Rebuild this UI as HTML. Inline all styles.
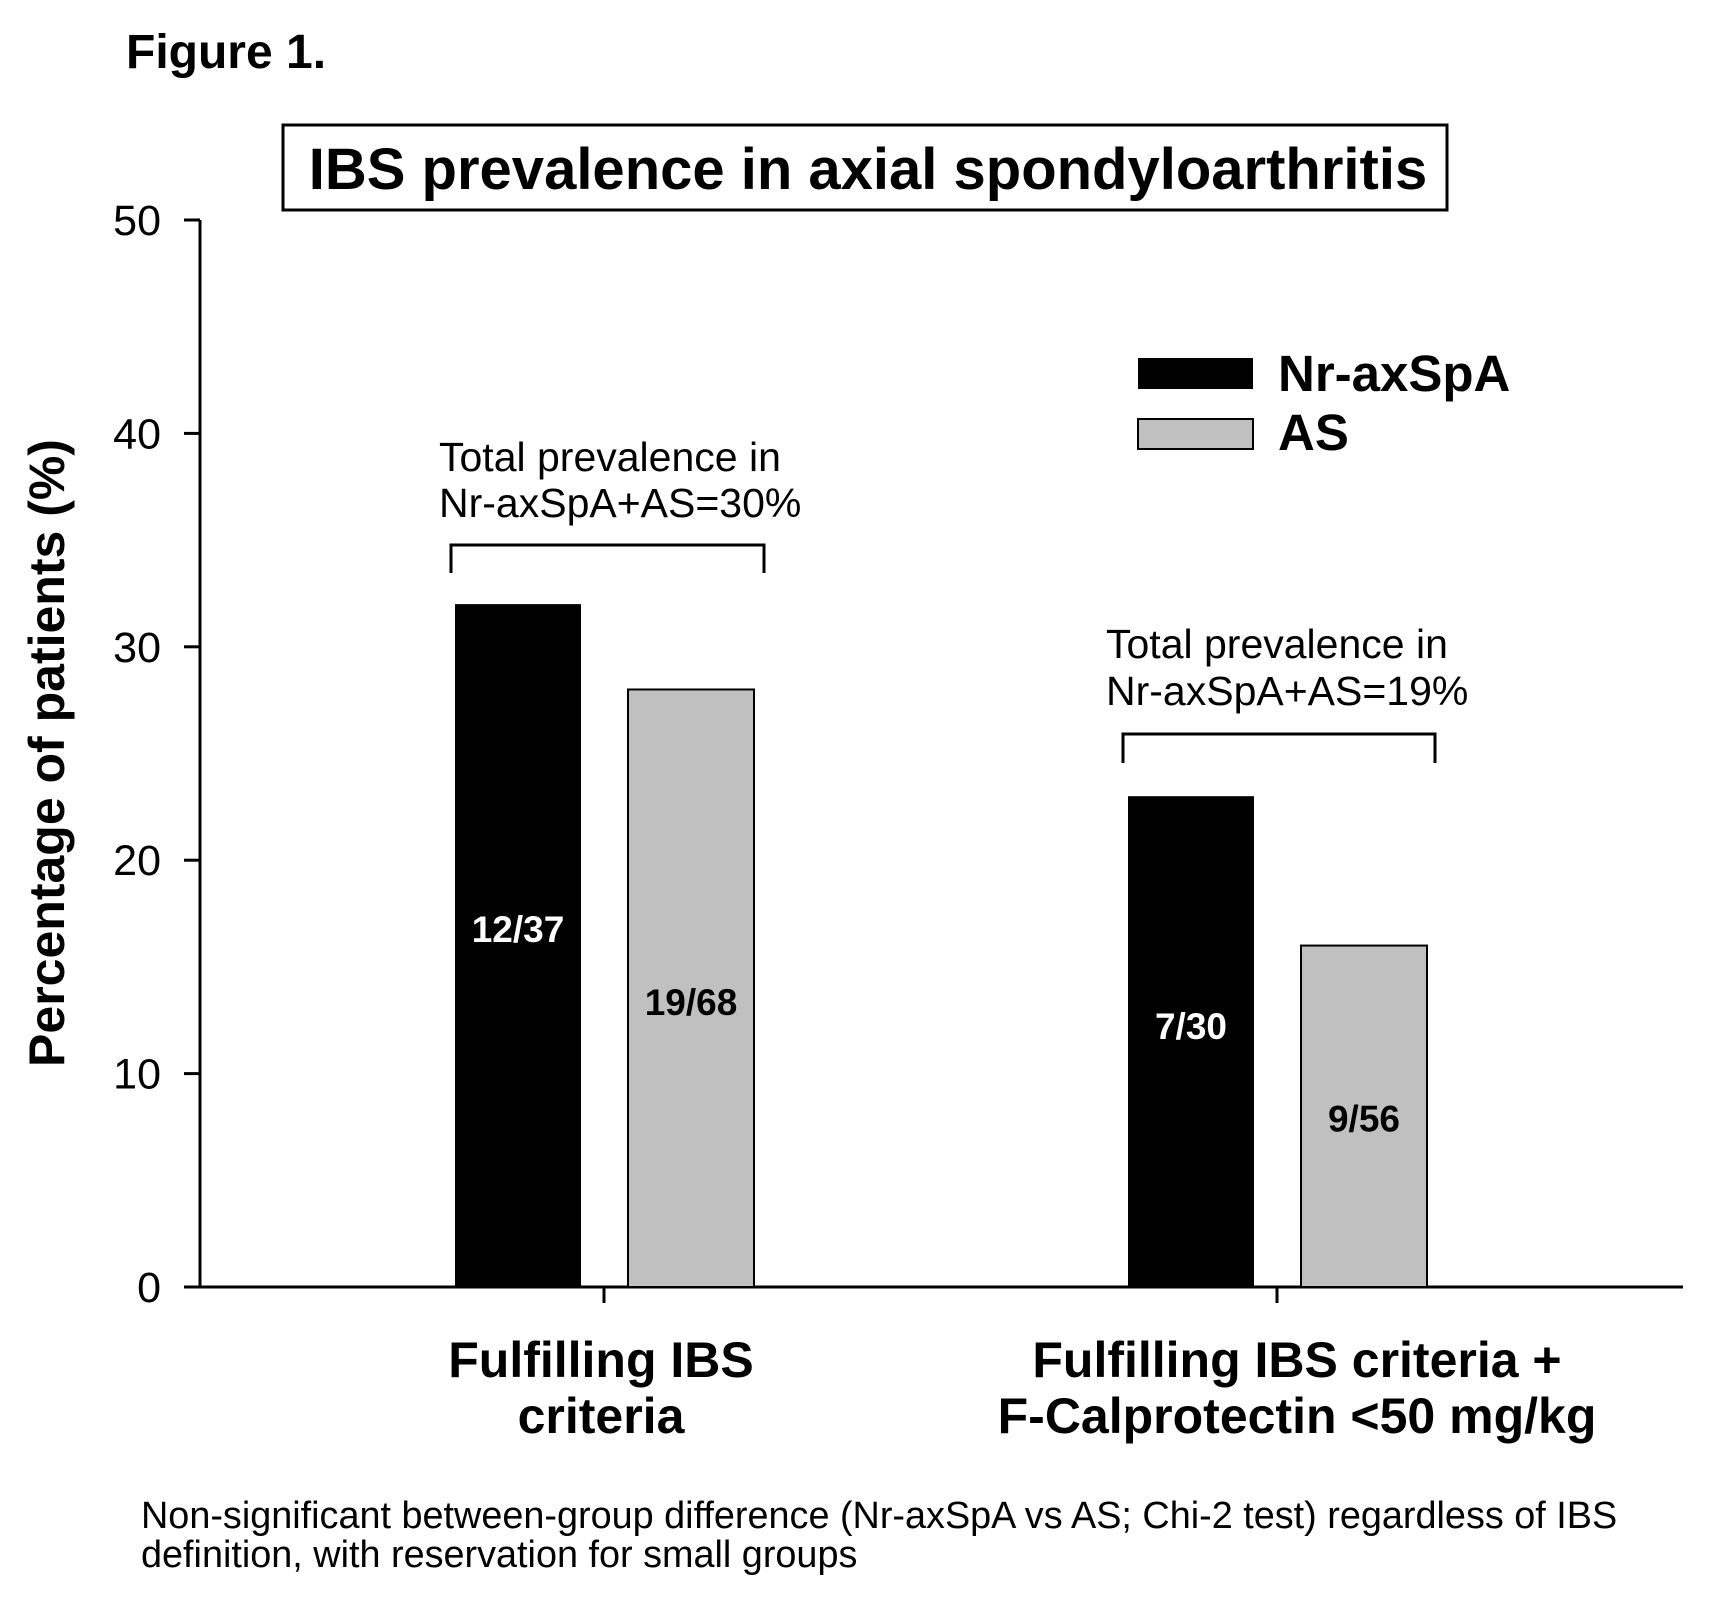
<!DOCTYPE html>
<html><head><meta charset="utf-8"><style>
html,body{margin:0;padding:0;background:#fff}
svg{display:block;font-family:"Liberation Sans",Arial,sans-serif}
</style></head><body>
<svg id="chart" width="1725" height="1597" viewBox="0 0 1725 1597">
<text x="126" y="68" font-size="48" font-weight="bold">Figure 1.</text>
<rect x="283" y="125" width="1164" height="85" fill="none" stroke="#000" stroke-width="3"/>
<text x="868" y="189" font-size="58" font-weight="bold" text-anchor="middle">IBS prevalence in axial spondyloarthritis</text>
<text transform="translate(64,753) rotate(-90)" font-size="50" font-weight="bold" text-anchor="middle">Percentage of patients (%)</text>
<g id="axes"></g>
<g id="bars"></g>
<rect x="1138" y="358" width="115" height="31" fill="#000"/>
<text x="1278" y="391" font-size="51" font-weight="bold">Nr-axSpA</text>
<rect x="1138" y="419" width="115" height="30" fill="#c0c0c0" stroke="#000" stroke-width="2"/>
<text x="1278" y="450" font-size="51" font-weight="bold">AS</text>
<g>
<text x="439" y="471" font-size="41">Total prevalence in</text>
<text x="439" y="517" font-size="41">Nr-axSpA+AS=30%</text>
<path d="M451 573 V545 H764 V573" fill="none" stroke="#000" stroke-width="3"/>
</g>
<g>
<text x="1106" y="658" font-size="41">Total prevalence in</text>
<text x="1106" y="705" font-size="41">Nr-axSpA+AS=19%</text>
<path d="M1123 763 V734 H1435 V763" fill="none" stroke="#000" stroke-width="3"/>
</g>
<g font-size="50" font-weight="bold" text-anchor="middle">
<text x="601" y="1377">Fulfilling IBS</text>
<text x="601" y="1433">criteria</text>
<text x="1297" y="1377">Fulfilling IBS criteria +</text>
<text x="1297" y="1433">F-Calprotectin &lt;50 mg/kg</text>
</g>
<text x="141" y="1528" font-size="37.8">Non-significant between-group difference (Nr-axSpA vs AS; Chi-2 test) regardless of IBS</text>
<text x="141" y="1567" font-size="37.8">definition, with reservation for small groups</text>
</svg>
<script>
const categories = ["Fulfilling IBS criteria", "Fulfilling IBS criteria + F-Calprotectin <50 mg/kg"];
const nrValues = [32, 23];
const asValues = [28, 16];
const nrLabels = ["12/37", "7/30"];
const asLabels = ["19/68", "9/56"];
const yTicks = [0, 10, 20, 30, 40, 50];

const NS = "http://www.w3.org/2000/svg";
const y0 = 1287, y50 = 220, xAxis0 = 200, xAxis1 = 1683;
const y = v => y0 - (v / 50) * (y0 - y50);
const catCenter = i => 604 + i * 673;
function mk(tag, attrs, parent) {
  const e = document.createElementNS(NS, tag);
  for (const k in attrs) e.setAttribute(k, attrs[k]);
  parent.appendChild(e);
  return e;
}
const axes = document.getElementById("axes");
const bars = document.getElementById("bars");
const yAxis = mk("line", {x1: xAxis0, y1: y(50), x2: xAxis0, y2: y0, stroke: "#000", "stroke-width": 3}, axes);


const xAxis = mk("line", {x1: xAxis0 - 16, y1: y0, x2: xAxis1, y2: y0, stroke: "#000", "stroke-width": 3}, axes);


yTicks.forEach(t => {
  const tk = mk("line", {x1: xAxis0 - 16, y1: y(t), x2: xAxis0, y2: y(t), stroke: "#000", "stroke-width": 3}, axes);
  
  
  const lb = mk("text", {x: 161, y: y(t) + 15, "font-size": 43, "text-anchor": "end"}, axes);
  lb.textContent = t;
  
  
});
categories.forEach((c, i) => {
  const cx = catCenter(i);
  const tk = mk("line", {x1: cx, y1: y0, x2: cx, y2: y0 + 16, stroke: "#000", "stroke-width": 3}, axes);
  
  
  const bw = 126;
  const b1 = mk("rect", {x: cx - 23 - bw, y: y(nrValues[i]), width: bw, height: y0 - y(nrValues[i]), fill: "#000"}, bars);
  
  
  const b2 = mk("rect", {x: cx + 24, y: y(asValues[i]), width: bw, height: y0 - y(asValues[i]), fill: "#c0c0c0", stroke: "#000", "stroke-width": 2}, bars);
  
  
  const l1 = mk("text", {x: cx - 23 - bw / 2, y: y(nrValues[i] * 0.505), "font-size": 37, "font-weight": "bold", fill: "#fff", "text-anchor": "middle"}, bars);
  l1.textContent = nrLabels[i];
  
  
  const l2 = mk("text", {x: cx + 24 + bw / 2, y: y(asValues[i] * 0.455), "font-size": 37, "font-weight": "bold", fill: "#000", "text-anchor": "middle"}, bars);
  l2.textContent = asLabels[i];
  
  
});
</script>
</body></html>
